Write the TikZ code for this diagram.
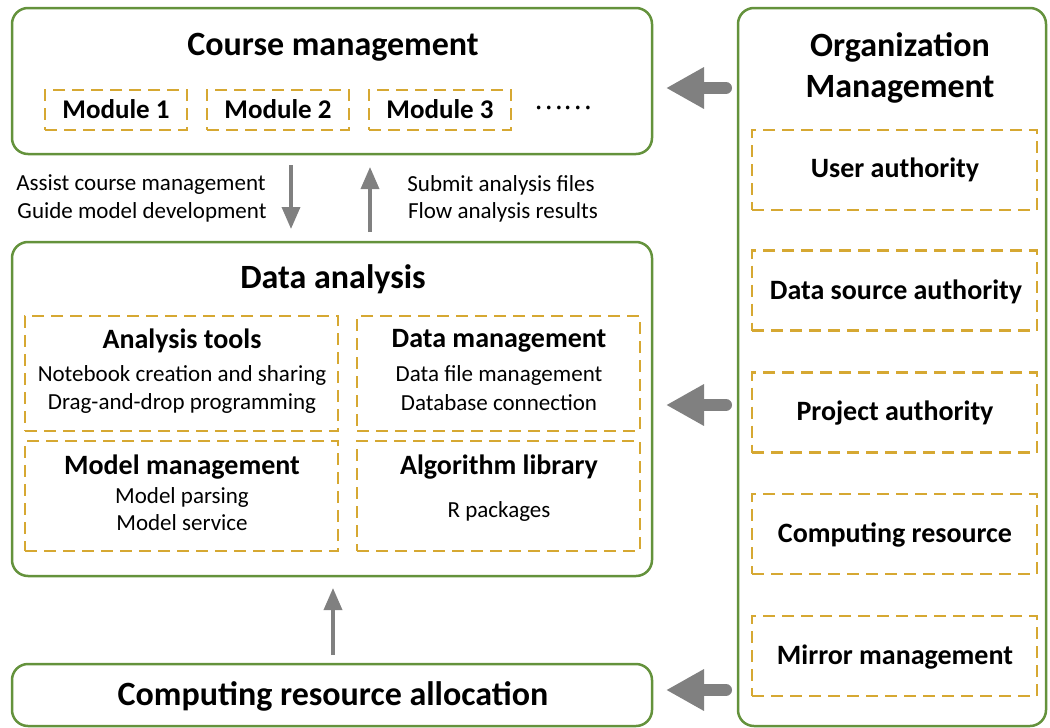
\documentclass[tikz,border=0pt]{standalone}
\usepackage{fontspec}
\setmainfont{Carlito}
\newfontfamily\cjkf{Noto Sans CJK SC}
\usetikzlibrary{arrows.meta}
\definecolor{boxgreen}{RGB}{100,146,60}
\definecolor{dashgold}{RGB}{214,168,50}
\definecolor{arrgrey}{RGB}{128,128,128}
\tikzset{
  bigbox/.style={draw=boxgreen, line width=2.5pt, rounded corners=16pt, inner sep=0pt},
  dbox/.style={draw=dashgold, line width=2.2pt, dash pattern=on 12pt off 7pt, inner sep=0pt},
  titletxt/.style={font=\bfseries\fontsize{34}{40}\selectfont, inner sep=0pt},
  headtxt/.style={font=\bfseries\fontsize{28}{33}\selectfont, inner sep=0pt},
  modtxt/.style={font=\bfseries\fontsize{27}{32}\selectfont, inner sep=0pt},
  bodytxt/.style={font=\fontsize{23}{27}\selectfont, inner sep=0pt},
  thinarrow/.style={draw=arrgrey, line width=3.5pt, -{Triangle[length=22pt,width=18pt]}, arrgrey},
  fatarrow/.style={draw=arrgrey, line width=12pt, line cap=round, -{Triangle[length=38pt,width=39pt]}, arrgrey}
}
\begin{document}
\begin{tikzpicture}[x=1pt,y=-1pt]
\useasboundingbox (0,0) rectangle (1050,728);

% ---------- Course management ----------
\node[bigbox, minimum width=640pt, minimum height=146pt] (course) at (332,81) {};
\node[titletxt] (coursetitle) at (333,47) {Course management};
\node[dbox, minimum width=142pt, minimum height=40pt] (m1) at (116,110) {};
\node[dbox, minimum width=142pt, minimum height=40pt] (m2) at (278,110) {};
\node[dbox, minimum width=142pt, minimum height=40pt] (m3) at (440,110) {};
\node[modtxt] (m1t) at (116,109) {Module 1};
\node[modtxt] (m2t) at (278,109) {Module 2};
\node[modtxt] (m3t) at (440,109) {Module 3};
\node[font=\cjkf\fontsize{27}{32}\selectfont, inner sep=0pt] (dots) at (563,108) {……};

% ---------- arrows between course and data ----------
\coordinate (dn1) at (291,165);
\coordinate (dn2) at (291,229);
\coordinate (up1) at (370,232);
\coordinate (up2) at (370,167);
\draw[thinarrow] (dn1) -- (dn2);
\draw[thinarrow] (up1) -- (up2);
\node[bodytxt] (l1) at (141,185) {Assist course management};
\node[bodytxt] (l2) at (142,212) {Guide model development};
\node[bodytxt] (r1) at (501,185) {Submit analysis files};
\node[bodytxt] (r2) at (503,212) {Flow analysis results};

% ---------- Data analysis ----------
\node[bigbox, minimum width=640pt, minimum height=334pt] (data) at (332,409) {};
\node[titletxt] (datatitle) at (333,279) {Data analysis};

\node[dbox, minimum width=313pt, minimum height=115pt] (at) at (181.5,373.5) {};
\node[dbox, minimum width=283pt, minimum height=115pt] (dm) at (498.5,373.5) {};
\node[dbox, minimum width=313pt, minimum height=110pt] (mm) at (181.5,496) {};
\node[dbox, minimum width=283pt, minimum height=110pt] (al) at (498.5,496) {};

\node[headtxt] (ath) at (182,341) {Analysis tools};
\node[bodytxt] (at1) at (182,375) {Notebook creation and sharing};
\node[bodytxt] (at2) at (182,403) {Drag-and-drop programming};

\node[headtxt] (dmh) at (499,341) {Data management};
\node[bodytxt] (dm1) at (499,375) {Data file management};
\node[bodytxt] (dm2) at (499,403) {Database connection};

\node[headtxt] (mmh) at (182,467) {Model management};
\node[bodytxt] (mm1) at (182,497) {Model parsing};
\node[bodytxt] (mm2) at (182,523) {Model service};

\node[headtxt] (alh) at (499,467) {Algorithm library};
\node[bodytxt] (al1) at (499,511) {R packages};

% ---------- Computing resource allocation ----------
\node[bigbox, minimum width=640pt, minimum height=62pt] (comp) at (332,695) {};
\node[titletxt] (comptitle) at (333,696) {Computing resource allocation};
\coordinate (cu1) at (333,655);
\coordinate (cu2) at (333,588);
\draw[thinarrow] (cu1) -- (cu2);

% ---------- Organization Management ----------
\node[bigbox, minimum width=308pt, minimum height=718pt] (org) at (892,367) {};
\node[titletxt] (orgt1) at (900,47) {Organization};
\node[titletxt] (orgt2) at (900,89) {Management};

\node[dbox, minimum width=285pt, minimum height=80pt] (o1) at (894.5,170) {};
\node[dbox, minimum width=285pt, minimum height=80pt] (o2) at (894.5,290.5) {};
\node[dbox, minimum width=285pt, minimum height=80pt] (o3) at (894.5,412.5) {};
\node[dbox, minimum width=285pt, minimum height=80pt] (o4) at (894.5,534) {};
\node[dbox, minimum width=285pt, minimum height=80pt] (o5) at (894.5,656) {};
\node[headtxt] (o1t) at (895,170) {User authority};
\node[headtxt] (o2t) at (896,292) {Data source authority};
\node[headtxt] (o3t) at (895,413) {Project authority};
\node[headtxt] (o4t) at (895,535) {Computing resource};
\node[headtxt] (o5t) at (895,657) {Mirror management};

% ---------- fat arrows ----------
\coordinate (fa1s) at (726,88);
\coordinate (fa1e) at (666,88);
\coordinate (fa2s) at (726,405);
\coordinate (fa2e) at (666,405);
\coordinate (fa3s) at (726,690);
\coordinate (fa3e) at (666,690);
\draw[fatarrow] (fa1s) -- (fa1e);
\draw[fatarrow] (fa2s) -- (fa2e);
\draw[fatarrow] (fa3s) -- (fa3e);
\end{tikzpicture}
\end{document}
